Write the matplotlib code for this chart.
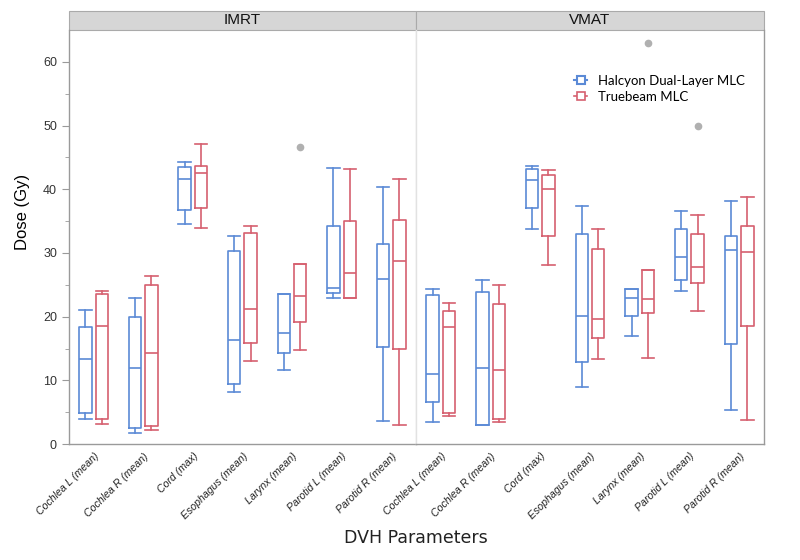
import numpy as np
import matplotlib
matplotlib.use("Agg")
import matplotlib.pyplot as plt
from matplotlib.patches import Rectangle
from matplotlib.lines import Line2D

params = ['Cochlea L (mean)', 'Cochlea R (mean)', 'Cord (max)', 'Esophagus (mean)',
          'Larynx (mean)', 'Parotid L (mean)', 'Parotid R (mean)']

# [whisker low, q1, median, q3, whisker high]
imrt_halcyon = [[3.9, 4.9, 13.4, 18.3, 21.1],
                [1.8, 2.6, 12.0, 20.0, 23.0],
                [34.6, 36.8, 41.6, 43.5, 44.3],
                [8.1, 9.5, 16.4, 30.3, 32.6],
                [11.6, 14.35, 17.5, 23.5, 23.5],
                [22.9, 23.7, 24.45, 34.3, 43.3],
                [3.7, 15.2, 25.9, 31.4, 40.3]]
imrt_truebeam = [[3.1, 4.0, 18.6, 23.5, 24.0],
                 [2.15, 2.9, 14.35, 24.9, 26.4],
                 [33.9, 37.1, 42.6, 43.7, 47.1],
                 [13.1, 15.9, 21.2, 33.2, 34.3],
                 [14.8, 19.1, 23.2, 28.3, 28.3],
                 [23.0, 23.0, 26.9, 35.0, 43.2],
                 [3.0, 14.9, 28.8, 35.1, 41.6]]
vmat_halcyon = [[3.4, 6.55, 11.0, 23.4, 24.3],
                [3.0, 3.04, 12.0, 23.8, 25.7],
                [33.8, 37.0, 41.4, 43.2, 43.7],
                [8.95, 12.9, 20.1, 32.9, 37.3],
                [16.9, 20.1, 22.9, 24.3, 24.3],
                [24.0, 25.7, 29.3, 33.8, 36.55],
                [5.3, 15.7, 30.5, 32.7, 38.1]]
vmat_truebeam = [[4.35, 4.8, 18.3, 20.85, 22.1],
                 [3.4, 4.0, 11.6, 21.95, 24.9],
                 [28.1, 32.7, 40.0, 42.2, 43.0],
                 [13.4, 16.6, 19.6, 30.6, 33.8],
                 [13.55, 20.5, 22.7, 27.3, 27.3],
                 [20.9, 25.3, 27.8, 33.0, 35.9],
                 [3.8, 18.5, 30.2, 34.25, 38.8]]
# outliers (Truebeam only)
imrt_truebeam_out = [[], [], [], [], [46.7], [], []]
vmat_truebeam_out = [[], [], [], [], [63.0], [50.0], []]

blue = '#5b8ad6'
red = '#d6606f'
gray = '#9a9a9a'


def make_stats(vals, outs):
    st = []
    for i in range(len(vals)):
        lo, q1, med, q3, hi = vals[i]
        st.append(dict(whislo=lo, q1=q1, med=med, q3=q3, whishi=hi,
                       fliers=outs[i] if outs is not None else []))
    return st


def draw_box(ax, vals, outs, pos, col):
    lp = dict(color=col, linewidth=1.2)
    ax.bxp(make_stats(vals, outs), positions=pos, widths=0.25,
           boxprops=lp, whiskerprops=lp, capprops=lp, medianprops=lp,
           flierprops=dict(marker='o', markerfacecolor='#b0b0b0',
                           markeredgecolor='#b0b0b0', markersize=4.5),
           manage_ticks=False, capwidths=0.25)


fig = plt.figure(figsize=(8, 5.6), dpi=100)
ax1 = fig.add_axes([0.086, 0.207, 0.434, 0.7395])
ax2 = fig.add_axes([0.52, 0.207, 0.435, 0.7395], sharey=ax1)

x = np.arange(len(params))
panels = [(ax1, imrt_halcyon, imrt_truebeam, imrt_truebeam_out, 'IMRT'),
          (ax2, vmat_halcyon, vmat_truebeam, vmat_truebeam_out, 'VMAT')]
for ax, hal, tb, tb_out, title in panels:
    draw_box(ax, hal, None, x - 0.165, blue)
    draw_box(ax, tb, tb_out, x + 0.165, red)
    ax.set_xlim(-0.5, len(params) - 0.5)
    ax.set_xticks(x)
    ax.set_xticklabels(params, rotation=45, ha='right', rotation_mode='anchor',
                       fontsize=7.6, style='italic', family='Liberation Sans',
                       color='#222222')
    ax.tick_params(axis='x', length=0, pad=5)
    ax.spines['top'].set_visible(False)
    for s in ['left', 'right', 'bottom']:
        ax.spines[s].set_color(gray)
        ax.spines[s].set_linewidth(1.0)
    # strip header
    ax.add_patch(Rectangle((0, 1.0), 1, 0.046, transform=ax.transAxes,
                           facecolor='#d6d6d6', edgecolor='#aaaaaa', lw=0.8,
                           clip_on=False))
    ax.text(0.5, 1.023, title, transform=ax.transAxes, ha='center', va='center',
            fontsize=11, family='Liberation Sans', color='#111111')

ax1.spines['right'].set_color('#e2e2e2')
ax2.spines['left'].set_color('#e2e2e2')

ax1.set_ylim(0, 65)
ax1.set_yticks(np.arange(0, 61, 10))
ax1.set_yticks(np.arange(5, 61, 10), minor=True)
ax1.tick_params(axis='y', which='major', length=5, color=gray, labelsize=9,
                labelcolor='#333333')
ax1.tick_params(axis='y', which='minor', length=3, color=gray)
for lab in ax1.get_yticklabels():
    lab.set_family('Liberation Sans')
ax2.tick_params(axis='y', which='both', left=False, labelleft=False)

ax1.set_ylabel('Dose (Gy)', fontsize=12, family='Liberation Sans')
ax1.yaxis.set_label_coords(-0.112, 0.56)
fig.text(0.52, 0.04, 'DVH Parameters', ha='center', va='center', fontsize=12.5,
         family='DejaVu Sans', color='#222222')

handles = [Line2D([], [], color=blue, lw=1.5, marker='s', markersize=6,
                  markerfacecolor='white', markeredgecolor=blue, markeredgewidth=1.5),
           Line2D([], [], color=red, lw=1.2, marker='s', markersize=6,
                  markerfacecolor='white', markeredgecolor=red, markeredgewidth=1.2)]
ax2.legend(handles, ['Halcyon Dual-Layer MLC', 'Truebeam MLC'], frameon=False,
           loc='upper left', bbox_to_anchor=(0.42, 0.92), handlelength=1.0,
           handletextpad=0.8, labelspacing=0.3,
           prop=dict(family='Lato', size=9.5))

fig.savefig('out.png', dpi=100, facecolor='white')
